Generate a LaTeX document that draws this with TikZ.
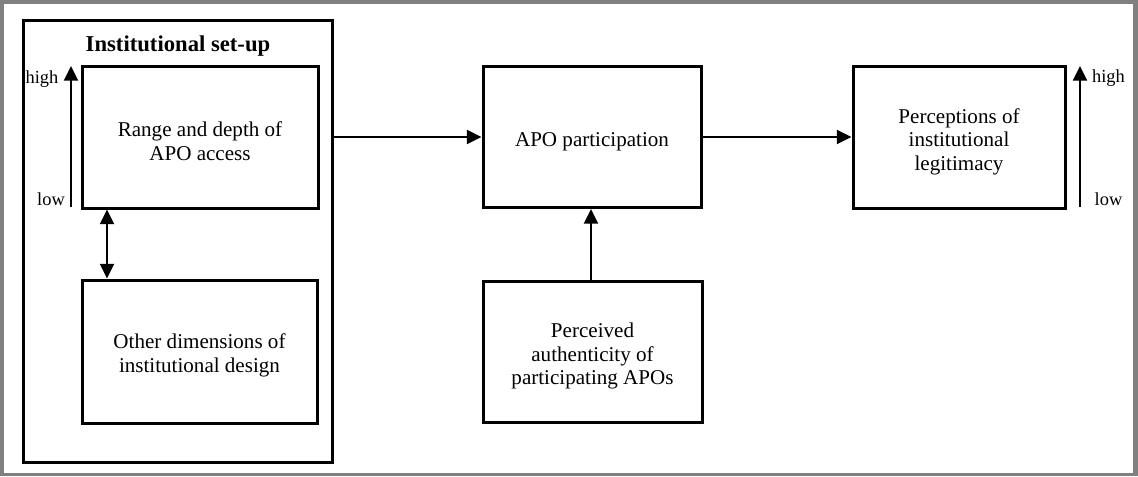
\documentclass[tikz,border=0pt]{standalone}
\usepackage{fontspec}
\setmainfont{Liberation Serif}
\usetikzlibrary{arrows.meta}
\definecolor{framegray}{HTML}{808080}
\begin{document}
\begin{tikzpicture}[x=0.75pt,y=-0.75pt,
  box/.style={draw,line width=2.25pt,inner sep=0pt},
  txt/.style={inner sep=0pt,align=center,font=\fontsize{15.8}{17.7}\selectfont},
  arr/.style={line width=1.5pt,-{Triangle[length=11pt,width=10.5pt]}},
  dblarr/.style={line width=1.5pt,{Triangle[length=11pt,width=10.5pt]}-{Triangle[length=11pt,width=10.5pt]}},
  lvl/.style={font=\fontsize{13.8}{16}\selectfont,inner sep=0pt}]
  \useasboundingbox (0,0) rectangle (1138,476);
  % page frame
  \fill[framegray] (0,0) rectangle (1138,476);
  \fill[white] (4,4) rectangle (1133,473);

  % institutional set-up panel
  \node[box,minimum width=231.75pt,minimum height=331.5pt] (setup) at (177.5,241) {};
  \node[font=\bfseries\fontsize{17}{20}\selectfont,inner sep=0pt] (title) at (178,46) {Institutional set-up};
  \node[box,minimum width=177pt,minimum height=106.5pt] (range) at (200,137) {};
  \node[txt] (ranget) at ([yshift=-3pt]range.center) {Range and depth of\\APO access};
  \node[box,minimum width=176.25pt,minimum height=107.25pt] (other) at (199.5,351.5) {};
  \node[txt] (othert) at ([yshift=-3pt]other.center) {Other dimensions of\\institutional design};

  % central column
  \node[box,minimum width=163.5pt,minimum height=105.75pt] (apo) at (592,137) {};
  \node[txt] (apot) at ([yshift=-3.5pt]apo.center) {APO participation};
  \node[box,minimum width=164.25pt,minimum height=105.75pt] (auth) at (592.5,352) {};
  \node[txt] (autht) at ([yshift=-3pt]auth.center) {Perceived\\authenticity of\\participating APOs};

  % outcome
  \node[box,minimum width=159pt,minimum height=106.5pt] (legit) at (959,137) {};
  \node[txt] (legitt) at ([yshift=-3.5pt]legit.center) {Perceptions of\\institutional\\legitimacy};

  % connectors
  \draw[arr] (apo.west -| setup.east) -- (apo.west);
  \draw[arr] (apo.east) -- (legit.west);
  \draw[arr] (auth.north -| 591,0) -- (apo.south -| 591,0);
  \draw[dblarr] (range.south -| 107,0) -- (other.north -| 107,0);

  % low/high scales
  \coordinate (llow) at (71,207);
  \coordinate (lhigh) at (71,66);
  \draw[arr] (llow) -- (lhigh);
  \node[lvl,anchor=base] (lh) at (42,83) {high};
  \node[lvl,anchor=base] (ll) at (51,205) {low};

  \coordinate (rlow) at (1080,207);
  \coordinate (rhigh) at (1080,66);
  \draw[arr] (rlow) -- (rhigh);
  \node[lvl,anchor=base] (rh) at (1108.5,82) {high};
  \node[lvl,anchor=base] (rl) at (1108.5,205) {low};
\end{tikzpicture}
\end{document}
